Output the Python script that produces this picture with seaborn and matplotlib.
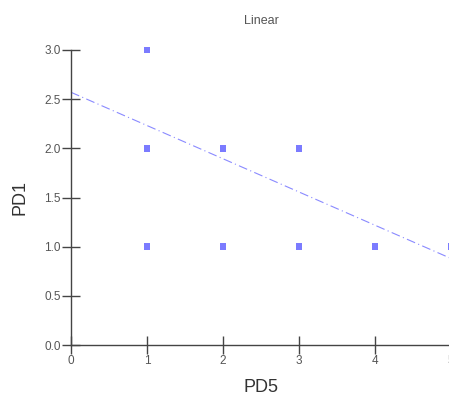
import matplotlib
matplotlib.use("Agg")
import matplotlib.pyplot as plt
import seaborn as sns
import pandas as pd

# data
pd5 = [1, 1, 1, 2, 2, 3, 3, 4, 5]
pd1 = [3, 2, 1, 2, 1, 2, 1, 1, 1]
fit_x = [0, 5]
fit_y = [2.57, 0.88]
x_ticks = [0, 1, 2, 3, 4, 5]
y_ticks = [0.0, 0.5, 1.0, 1.5, 2.0, 2.5, 3.0]

sns.set_style("white")
plt.rcParams['font.family'] = ['Liberation Sans', 'DejaVu Sans']

df = pd.DataFrame({"PD5": pd5, "PD1": pd1})
fit = pd.DataFrame({"x": fit_x, "y": fit_y})

fig = plt.figure(figsize=(4.49, 3.96), dpi=100)
ax = fig.add_axes([71/449, 51/396, 380/449, 295/396])

col = "#7b7bff"
sns.scatterplot(data=df, x="PD5", y="PD1", marker="s", s=22, color=col,
                edgecolor="none", ax=ax, clip_on=False, zorder=3)
sns.lineplot(data=fit, x="x", y="y", color="#8a8aff", lw=0.8,
             ls=(0, (8, 3, 1, 3)), ax=ax, clip_on=False)

ax.set_xlim(0, 5)
ax.set_ylim(0, 3)
ax.set_xticks(x_ticks)
ax.set_xticklabels([str(v) for v in x_ticks])
ax.set_yticks(y_ticks)
ax.set_yticklabels([f"{v:.1f}" for v in y_ticks])
for s in ["top", "right"]:
    ax.spines[s].set_visible(False)
for s in ["left", "bottom"]:
    ax.spines[s].set_color("#444444")
    ax.spines[s].set_linewidth(1.0)
ax.tick_params(axis="both", which="major", bottom=True, left=True,
               direction="inout", length=13, width=1.0,
               color="#444444", labelsize=8.5, labelcolor="#555555", pad=1)
ax.set_xlabel("PD5", fontsize=13, color="#333333", labelpad=8)
ax.set_ylabel("PD1", fontsize=13, color="#333333", labelpad=11)
ax.set_title("Linear", fontsize=9, color="#555555", pad=19)

fig.savefig("out.png", dpi=100)
